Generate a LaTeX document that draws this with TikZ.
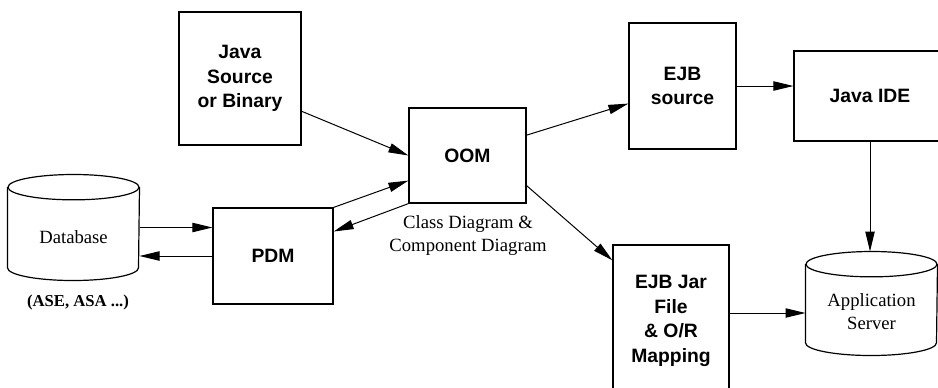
\documentclass[tikz,border=0pt]{standalone}
\usepackage{fontspec}
\setmainfont{Liberation Serif}
\setsansfont{Liberation Sans}
\usetikzlibrary{arrows.meta,calc}

% cylinder outline round a named store node
\newcommand\storeoutline[1]{%
    \draw[line width=0.9pt] ([yshift=-9.5pt]#1.north west) -- ([yshift=9.5pt]#1.south west)
        arc[start angle=180, end angle=360, x radius=49.125pt, y radius=9.5pt]
        -- ([yshift=-9.5pt]#1.north east);
    \draw[line width=0.9pt] ([yshift=-9.5pt]#1.north) ellipse[x radius=49.125pt, y radius=9.5pt];}

\begin{document}
\begin{tikzpicture}[x=0.75pt,y=-0.75pt,>={Triangle[length=15pt,width=7pt]},line width=0.75pt,
    box/.style={draw, line width=0.9pt, align=center, inner sep=2pt,
        font=\sffamily\bfseries\fontsize{14.5}{18.5}\selectfont},
    store/.style={inner sep=0pt, minimum width=98.25pt},
    storetext/.style={align=center, font=\fontsize{14}{17}\selectfont}]
        \useasboundingbox (0,0) rectangle (938,387);
        \clip (0,0) rectangle (938,387);
        % boxes
        \node (java) [box, minimum width=91.5pt, minimum height=99.75pt] at (240,78.5) {Java\\Source\\or Binary};
        \node (oom) [box, minimum width=87.75pt, minimum height=71.25pt] at (467.5,155.5) {OOM};
        \node (pdm) [box, minimum width=90pt, minimum height=72pt] at (273,256) {PDM};
        \node (ejbsrc) [box, minimum width=80.25pt, minimum height=94.5pt] at (682.5,86) {EJB\\source};
        \node (ide) [box, minimum width=114pt, minimum height=67.5pt] at (870,96) {Java IDE};
        \node (jar) [box, minimum width=87pt, minimum height=114pt] at (671,321) {EJB Jar\\File\\\& O/R\\Mapping};
        % stores, text a bit below the middle
        \node (db) [store, minimum height=78.75pt, label={[storetext, yshift=-7.5pt]center:Database}] at (73.5,227.5) {};
        \node (app) [store, minimum height=77.25pt, label={[storetext, yshift=-6pt]center:Application\\Server}] at (871.5,303.5) {};
        \storeoutline{db}
        \storeoutline{app}
        \node (dbnote) [font=\bfseries\fontsize{12.5}{15}\selectfont] at (78,302) {(ASE, ASA ...)};
        \node (diag) [align=center, font=\fontsize{14}{17.25}\selectfont] at (468,236) {Class Diagram \&\\Component Diagram};
        % links
        \draw[->] (java.-28) -- (oom.west);
        \draw[->] (pdm.north east) -- (oom.203);
        \draw[->] (oom.south west) -- (pdm.22);
        \draw[->] (db.east) -- (db.east -| pdm.west);
        \draw[->] (pdm.west) -- (pdm.west -| db.east);
        \draw[->] (oom.19) -- (ejbsrc.198);
        \draw[->] (ejbsrc.east) -- (ejbsrc.east -| ide.west);
        \draw[->] (oom.-27) -- (jar.134.5);
        \draw[->] (ide.south) -- (ide.south |- app.north);
        \draw[->] ([yshift=6pt]jar.east) -- ([yshift=6pt]jar.east -| app.west);
    \end{tikzpicture}
\end{document}
